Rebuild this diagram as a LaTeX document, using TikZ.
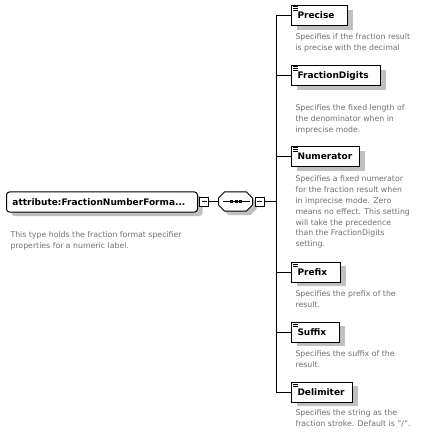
\documentclass[tikz,border=0pt]{standalone}
\usepackage{fontspec}
\setmainfont{DejaVu Sans}
\usetikzlibrary{shadows}
\usetikzlibrary{positioning}
\usetikzlibrary{calc}

\definecolor{shadowgray}{RGB}{192,192,192}
\definecolor{notegray}{RGB}{112,112,112}

\tikzset{
  boxshadow/.style={drop shadow={shadow xshift=5pt, shadow yshift=-4pt, fill=shadowgray, opacity=1}},
  elembox/.style={draw, fill=white, rectangle, minimum height=20pt, inner xsep=6pt, inner ysep=0pt,
    text height=7.5pt, text depth=1.5pt, align=left, font=\fontsize{9}{11}\selectfont\bfseries, boxshadow},
  rootbox/.style={elembox, rounded corners=3pt, anchor=west, text width=179pt},
  seqbox/.style={rectangle, minimum width=34pt, minimum height=19pt, inner sep=0pt},
  togglebox/.style={draw, fill=white, rectangle, minimum size=9pt, inner sep=0pt,
    path picture={\draw ([xshift=2pt]path picture bounding box.west) -- ([xshift=-2pt]path picture bounding box.east);}},
  notetext/.style={anchor=north west, inner sep=0pt, align=left, text=notegray, font=\fontsize{7.8}{10.8}\selectfont},
}

\begin{document}
\begin{tikzpicture}[x=1pt, y=-1pt, line width=1pt]
  \useasboundingbox (0,0) rectangle (435,435);

	\def\bx{291};
	\def\nx{295};

  % root and sequence
  \node[rootbox] (root) at (6,202) {attribute:FractionNumberForma...};
  \node[togglebox, right=1pt of root] (roottog) {};
  \node[notetext] (rootnote) at (10,231.5) {This type holds the fraction format specifier\\properties for a numeric label.};

  \node[seqbox] (seq) at (236,202) {};
  \fill[shadowgray] ([shift={(4,4)}]seq.north west) ++(6,0) -- ++(22,0) -- ++(6,6) -- ++(0,7) -- ++(-6,6) -- ++(-22,0) -- ++(-6,-6) -- ++(0,-7) -- cycle;
  \filldraw[fill=white] (seq.north west) ++(6,0) -- ++(22,0) -- ++(6,6) -- ++(0,7) -- ++(-6,6) -- ++(-22,0) -- ++(-6,-6) -- ++(0,-7) -- cycle;
  \node[togglebox, right=1pt of seq] (seqtog) {};
  \coordinate (spine) at (276,202);

  \draw ([xshift=4pt]seq.west) -- ([xshift=-4pt]seq.east);
  \foreach \dx in {-4.5,0,4.5}
    \fill ([xshift=\dx pt]seq.center) ++(-1.5pt,-1.5pt) rectangle ++(3pt,3pt);

  \draw (roottog) -- (seq);
  \draw (seqtog) -- (spine);

       \foreach \y/\w/\name/\title/\ny/\note in {
          16/56/precise/Precise/33.5/{Specifies if the fraction result\\is precise with the decimal},
          76/89/digits/FractionDigits/104.5/{Specifies the fixed length of\\the denominator when in\\imprecise mode.},
          157/68/numerator/Numerator/175.5/{Specifies a fixed numerator\\for the fraction result when\\in imprecise mode. Zero\\means no effect. This setting\\will take the precedence\\than the FractionDigits\\setting.},
          272/49/prefix/Prefix/290.5/{Specifies the prefix of the\\result.},
          332/48/suffix/Suffix/350.5/{Specifies the suffix of the\\result.},
          392/61/delimiter/Delimiter/409.5/{Specifies the string as the\\fraction stroke. Default is "/".}} {
         	\pgfmathsetmacro\tw{\w-12}
         	\node[elembox, anchor=west, text width=\tw pt] (\name) at (\bx,\y) {\title};
         	\foreach \k in {1,3,5}
         	  \draw[line width=0.8pt] ([xshift=2pt, yshift=-\k pt]\name.north west) -- ++(5pt,0);
         	\node[notetext] (\name note) at (\nx,\ny) {\note};
         	\draw (spine |- \name.west) -- (\name.west);
   	 }
	\draw (spine |- precise.west) -- (spine |- delimiter.west);

\end{tikzpicture}
\end{document}
